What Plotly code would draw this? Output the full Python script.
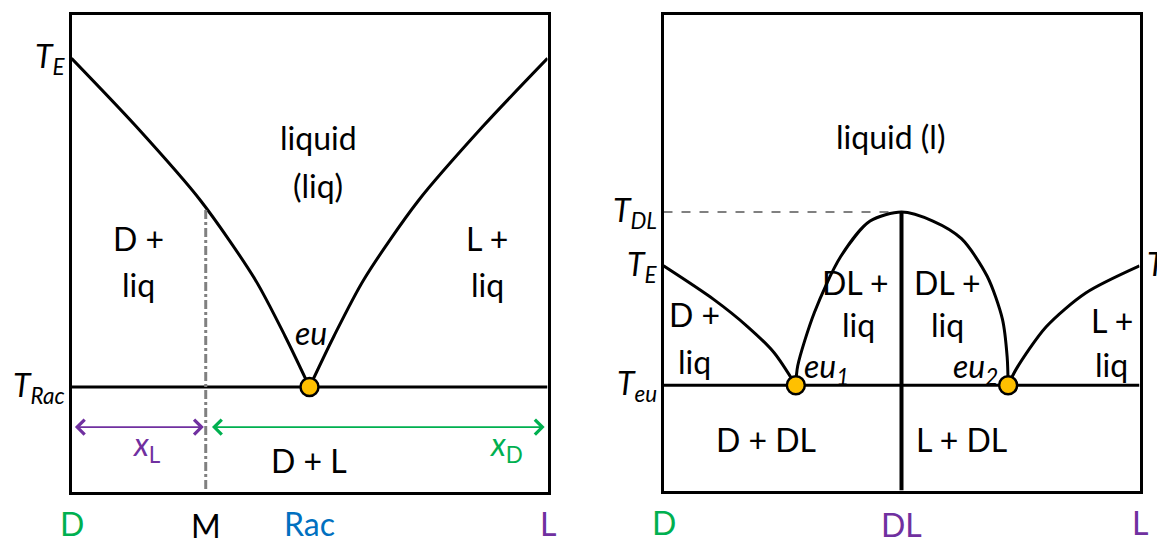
import plotly.graph_objects as go

W, H = 1157, 541

# ---- left panel: simple eutectic (conglomerate) ----
T_E_left = 0.908
T_rac = 0.219
x_rac = 0.5
x_M = 0.282
T_M = 0.59

liqD_x = [0.0, 0.136, 0.271, 0.386, 0.449, 0.5]
liqD_T = [0.908, 0.765, 0.610, 0.444, 0.325, 0.219]
liqL_x = [0.5, 0.551, 0.614, 0.729, 0.864, 1.0]
liqL_T = [0.219, 0.325, 0.444, 0.610, 0.765, 0.908]

arrow_T = 0.135
xL_span = [0.004, 0.278]
xD_span = [0.292, 0.994]

# ---- right panel: racemic compound ----
T_E_right = 0.472
T_DL = 0.585
T_eu = 0.221
x_eu1 = 0.278
x_eu2 = 0.724
x_DL = 0.5

dome_x = [0.278, 0.282, 0.317, 0.372, 0.434, 0.5, 0.566, 0.626, 0.680, 0.712, 0.722, 0.724]
dome_T = [0.221, 0.262, 0.374, 0.491, 0.566, 0.585, 0.566, 0.529, 0.450, 0.360, 0.280, 0.221]
solD_x = [0.0, 0.106, 0.177, 0.232, 0.278]
solD_T = [0.472, 0.401, 0.344, 0.290, 0.221]
solL_x = [0.724, 0.741, 0.804, 0.887, 1.0]
solL_T = [0.221, 0.255, 0.344, 0.415, 0.472]

GREEN = "#00B050"
PURPLE = "#7030A0"
BLUE = "#0070C0"
GREY = "#808080"
GOLD = "#FFC000"
FONT = "Lato"
FS = 32


def dom(a, b, size):
    return [a / size, b / size]


def ydom(top, bottom):
    return [1 - bottom / H, 1 - top / H]


fig = go.Figure()

line_k = dict(color="black", width=3)


def add_line(x, y, ax, **kw):
    style = dict(line_k)
    style.update(kw.pop("line", {}))
    fig.add_trace(go.Scatter(x=x, y=y, mode="lines", line=style,
                             xaxis="x" + ax, yaxis="y" + ax,
                             hoverinfo="skip", showlegend=False, **kw))


# left panel curves
add_line(liqD_x, liqD_T, "", line=dict(shape="spline", smoothing=0.8))
add_line(liqL_x, liqL_T, "", line=dict(shape="spline", smoothing=0.8))
add_line([0, 1], [T_rac, T_rac], "")
add_line([x_M, x_M], [T_M, 0], "", line=dict(color=GREY, width=3, dash="dashdot"))
fig.add_trace(go.Scatter(x=[x_rac], y=[T_rac], mode="markers",
                         marker=dict(size=18, color=GOLD, line=dict(color="black", width=2.5)),
                         xaxis="x", yaxis="y", hoverinfo="skip", showlegend=False,
                         cliponaxis=False))

# right panel curves
add_line([0, x_DL], [T_DL, T_DL], "2", line=dict(color=GREY, width=2, dash="dash"))
add_line(dome_x, dome_T, "2", line=dict(shape="spline", smoothing=0.8))
add_line(solD_x, solD_T, "2", line=dict(shape="spline", smoothing=0.8))
add_line(solL_x, solL_T, "2", line=dict(shape="spline", smoothing=0.8))
add_line([0, 1], [T_eu, T_eu], "2")
add_line([x_DL, x_DL], [T_DL, 0], "2", line=dict(width=4))
fig.add_trace(go.Scatter(x=[x_eu1, x_eu2], y=[T_eu, T_eu], mode="markers",
                         marker=dict(size=18, color=GOLD, line=dict(color="black", width=2.5)),
                         xaxis="x2", yaxis="y2", hoverinfo="skip", showlegend=False,
                         cliponaxis=False))

ann = []


def label(x, y, text, ax="", color="black", size=FS, **kw):
    d = dict(x=x, y=y, xref="x" + ax, yref="y" + ax, text=text, showarrow=False,
             font=dict(family=FONT, size=size, color=color))
    d.update(kw)
    ann.append(d)


# double-headed composition arrows
for span, color in ((xL_span, PURPLE), (xD_span, GREEN)):
    ann.append(dict(x=span[1], y=arrow_T, ax=span[0], ay=arrow_T,
                    xref="x", yref="y", axref="x", ayref="y", text="",
                    showarrow=True, arrowhead=4, startarrowhead=4,
                    arrowside="end+start", arrowsize=1.8, startarrowsize=1.8,
                    arrowwidth=1.6, arrowcolor=color, standoff=0, startstandoff=0))

# left panel text
label(0.518, 0.742, "liquid")
label(0.518, 0.642, "(liq)")
label(0.140, 0.531, "D +")
label(0.140, 0.435, "liq")
label(0.873, 0.531, "L +")
label(0.873, 0.435, "liq")
label(0.503, 0.333, "<i>eu</i>")
label(0.499, 0.065, "D + L")
label(0.157, 0.096, "<i>x</i><sub>L</sub>", color=PURPLE)
label(0.912, 0.096, "<i>x</i><sub>D</sub>", color=GREEN)

label(0, T_E_left, "<i>T</i><sub><i>E</i></sub>", xanchor="right", xshift=-5)
label(0, T_rac, "<i>T</i><sub><i>Rac</i></sub>", xanchor="right", xshift=-5)
label(0, 0, "D", color=GREEN, yanchor="top", yshift=-10)
label(x_M, 0, "M", yanchor="top", yshift=-12)
label(x_rac, 0, "Rac", color=BLUE, yanchor="top", yshift=-10)
label(1, 0, "L", color=PURPLE, yanchor="top", yshift=-10)

# right panel text
label(0.476, 0.744, "liquid (l)", "2")
label(0.403, 0.4375, "DL +", "2")
label(0.409, 0.348, "liq", "2")
label(0.597, 0.4375, "DL +", "2")
label(0.597, 0.348, "liq", "2")
label(0.065, 0.369, "D +", "2")
label(0.065, 0.271, "liq", "2")
label(0.942, 0.358, "L +", "2")
label(0.942, 0.265, "liq", "2")
label(0.342, 0.258, "<i>eu</i><sub><i>1</i></sub>", "2")
label(0.656, 0.258, "<i>eu</i><sub><i>2</i></sub>", "2")
label(0.215, 0.108, "D + DL", "2")
label(0.626, 0.108, "L + DL", "2")

label(0, T_DL, "<i>T</i><sub><i>DL</i></sub>", "2", xanchor="right", xshift=-5)
label(0, T_E_right, "<i>T</i><sub><i>E</i></sub>", "2", xanchor="right", xshift=-5)
label(0, T_eu, "<i>T</i><sub><i>eu</i></sub>", "2", xanchor="right", xshift=-5)
label(1, T_E_right, "<i>T</i><sub><i>E</i></sub>", "2", xanchor="left", xshift=5)
label(0, 0, "D", "2", color=GREEN, yanchor="top", yshift=-10)
label(x_DL, 0, "DL", "2", color=PURPLE, yanchor="top", yshift=-12)
label(1, 0, "L", "2", color=PURPLE, yanchor="top", yshift=-10)

axis_common = dict(range=[0, 1], showgrid=False, zeroline=False, showticklabels=False,
                   ticks="", showline=True, linewidth=3, linecolor="black", mirror=True,
                   fixedrange=True)

fig.update_layout(
    width=W, height=H, margin=dict(l=0, r=0, t=0, b=0),
    paper_bgcolor="white", plot_bgcolor="white",
    xaxis=dict(domain=dom(71.5, 547.5, W), anchor="y", **axis_common),
    yaxis=dict(domain=ydom(14.5, 491.5), anchor="x", **axis_common),
    xaxis2=dict(domain=dom(663.5, 1139.5, W), anchor="y2", **axis_common),
    yaxis2=dict(domain=ydom(14.5, 490.5), anchor="x2", **axis_common),
    annotations=ann,
    showlegend=False,
)

fig.write_html("out.html")
